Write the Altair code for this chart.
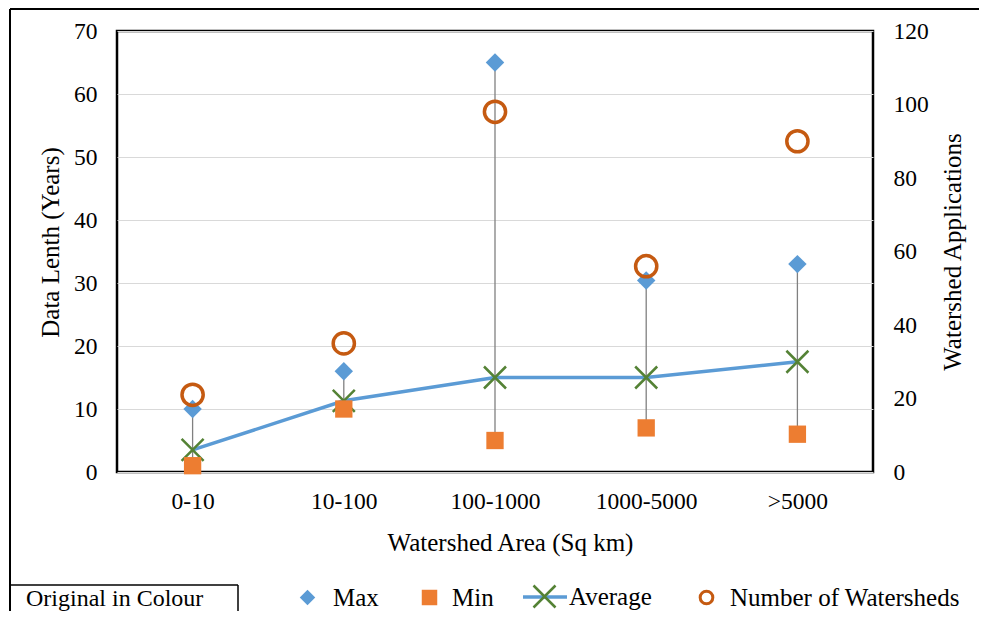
import altair as alt
import pandas as pd

categories = ["0-10", "10-100", "100-1000", "1000-5000", ">5000"]
max_years = [10, 16, 65, 30.4, 33]
min_years = [1, 10, 5, 7, 6]
avg_years = [3.5, 11.3, 15, 15, 17.5]
n_watersheds = [21, 35, 98, 56, 90]
left_ticks = [0, 10, 20, 30, 40, 50, 60, 70]
right_ticks = [0, 20, 40, 60, 80, 100, 120]

df = pd.DataFrame({
    "area": categories,
    "max": max_years,
    "min": min_years,
    "avg": avg_years,
    "n": n_watersheds,
})
one_row = pd.DataFrame({"k": [0]})

FONT = "Liberation Serif"
BLUE = "#5B9BD5"
ORANGE = "#ED7D31"
GREEN = "#548235"
DKORANGE = "#C55A11"
XPATH = "M-1,-1L1,1M-1,1L1,-1"
XPATH_LEG = "M-0.5,-0.5L0.5,0.5M-0.5,0.5L0.5,-0.5"

W, H = 756, 441
PL, PT, PR, PB = 109, 23, 106, 139

LEG_ROW = 567  # legend row centre, relative to plot top
LFS = 25       # legend label font size

x_enc = alt.X(
    "area:N", sort=categories,
    scale=alt.Scale(type="point", padding=0.5),
    axis=alt.Axis(title="Watershed Area (Sq km)", labelAngle=0, ticks=False,
                  domain=False, grid=False, labelPadding=17, titlePadding=18,
                  titleX=393, titleAlign="center"),
)
yscale = alt.Scale(domain=[0, 70], nice=False, zero=True)


def leg(x, y, **kw):
    base = dict(orient="none", legendX=x, legendY=y, title=None, padding=0,
                labelFont=FONT, labelFontSize=LFS, labelColor="black",
                labelLimit=0)
    base.update(kw)
    return alt.Legend(**base)


def series_color(name, colour, legend):
    return alt.Color("series:N", scale=alt.Scale(domain=[name], range=[colour]),
                     legend=legend)


base = alt.Chart(df)
deco = alt.Chart(one_row)

rules = base.mark_rule(color="#808080", strokeWidth=1.3).encode(
    x=x_enc,
    y=alt.Y("min:Q", scale=yscale, axis=alt.Axis(
        title="Data Lenth (Years)", orient="left", values=left_ticks,
        grid=True, gridColor="#D9D9D9", gridWidth=1, ticks=False, domain=False,
        labelPadding=20, titlePadding=10, titleY=211)),
    y2="max:Q",
)

avg_line = base.mark_line(strokeWidth=3.5).transform_calculate(
    series="'Average'").encode(
    x=x_enc,
    y=alt.Y("avg:Q", scale=yscale, axis=None),
    color=series_color("Average", BLUE,
                       leg(521 - 117, LEG_ROW - 25, symbolType="stroke",
                           symbolSize=1936, symbolStrokeWidth=3.5, labelOffset=0)),
)

avg_x = base.mark_point(shape=XPATH, size=484, strokeWidth=2.5, filled=False,
                        opacity=1).transform_calculate(series="'Average'").encode(
    x=x_enc,
    y=alt.Y("avg:Q", scale=yscale, axis=None),
    color=series_color("Average", GREEN,
                       leg(521 - 117, LEG_ROW - 25, symbolType=XPATH_LEG,
                           symbolSize=1936, symbolStrokeWidth=2.5,
                           labelExpr="''", labelOffset=0)),
)

max_pts = base.mark_point(shape="diamond", size=340, filled=True,
                          opacity=1).transform_calculate(series="'Max'").encode(
    x=x_enc,
    y=alt.Y("max:Q", scale=yscale, axis=None),
    color=series_color("Max", BLUE,
                       leg(295 - 117, LEG_ROW - 13, symbolType="diamond",
                           symbolSize=240, labelOffset=13)),
)

min_pts = base.mark_point(shape="square", size=300, filled=True,
                          opacity=1).transform_calculate(series="'Min'").encode(
    x=x_enc,
    y=alt.Y("min:Q", scale=yscale, axis=None),
    color=series_color("Min", ORANGE,
                       leg(417 - 117, LEG_ROW - 13, symbolType="square",
                           symbolSize=240, labelOffset=10)),
)

circles = base.mark_point(shape="circle", size=450, filled=False, strokeWidth=3.5,
                          opacity=1).transform_calculate(
    series="'Number of Watersheds'").encode(
    x=x_enc,
    y=alt.Y("n:Q", scale=alt.Scale(domain=[0, 120], nice=False), axis=alt.Axis(
        title="Watershed Applications", orient="right", values=right_ticks,
        grid=False, ticks=False, domain=False, labelPadding=20, titlePadding=37,
        titleAngle=270)),
    color=series_color("Number of Watersheds", DKORANGE,
                       leg(694 - 117, LEG_ROW - 13, symbolType="circle",
                           symbolSize=160, symbolStrokeWidth=3, labelOffset=11)),
)

# decorative frame of the original figure
frame_left = deco.mark_rule(color="black", strokeWidth=2).encode(
    x=alt.value(-107), y=alt.value(-22), y2=alt.value(H + PB))
frame_top = deco.mark_rule(color="black", strokeWidth=2).encode(
    x=alt.value(-107), x2=alt.value(W + PR), y=alt.value(-22))
box_top = deco.mark_rule(color="black", strokeWidth=1.5).encode(
    x=alt.value(-107), x2=alt.value(121), y=alt.value(554))
box_right = deco.mark_rule(color="black", strokeWidth=1.5).encode(
    x=alt.value(121), y=alt.value(554), y2=alt.value(H + PB))
box_text = deco.mark_text(align="left", baseline="alphabetic", font=FONT,
                          fontSize=24, color="black").encode(
    x=alt.value(-91), y=alt.value(575), text=alt.value("Original  in Colour"))

chart = alt.layer(
    rules, avg_line, avg_x, max_pts, min_pts, circles,
    frame_left, frame_top, box_top, box_right, box_text,
).resolve_scale(
    y="independent", color="independent"
).properties(
    width=W, height=H,
    autosize=alt.AutoSizeParams(type="none"),
    padding={"left": PL, "top": PT, "right": PR, "bottom": PB},
).configure_view(
    stroke="black", strokeWidth=2.5
).configure_axis(
    labelFont=FONT, titleFont=FONT, labelFontSize=23.5, titleFontSize=25,
    labelColor="black", titleColor="black", titleFontWeight="normal",
)

chart.save("out.html", embed_options={"renderer": "svg", "actions": False})
